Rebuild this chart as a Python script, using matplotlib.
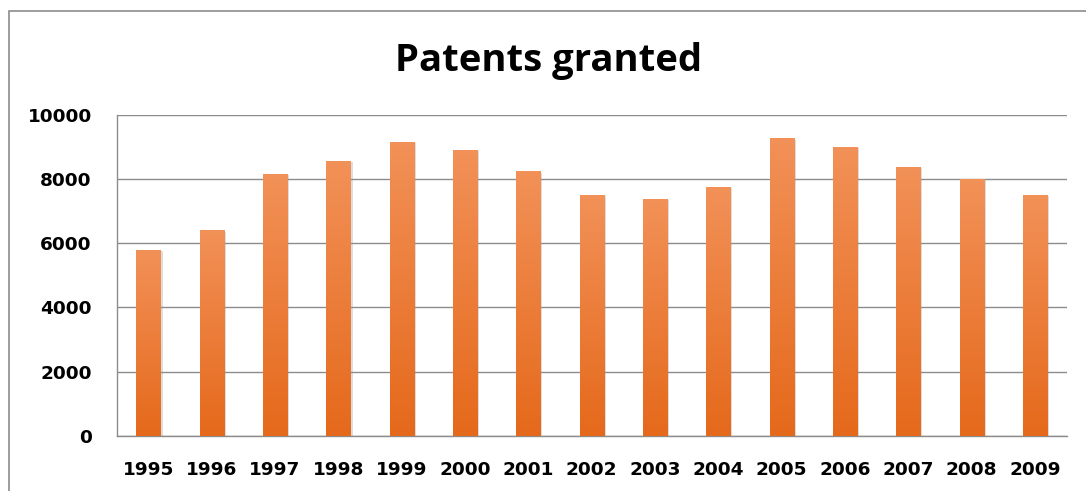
import numpy as np
import matplotlib
matplotlib.use("Agg")
from matplotlib import pyplot as plt
from matplotlib import patheffects
from matplotlib.colors import LinearSegmentedColormap
from matplotlib.patches import Rectangle

# Data
years = ["1995", "1996", "1997", "1998", "1999", "2000", "2001", "2002",
         "2003", "2004", "2005", "2006", "2007", "2008", "2009"]
patents = [5800, 6400, 8150, 8560, 9160, 8900, 8240, 7500,
           7380, 7750, 9270, 9000, 8380, 8000, 7500]
y_ticks = [0, 2000, 4000, 6000, 8000, 10000]

fig = plt.figure(figsize=(10.86, 4.91), dpi=100)
ax = fig.add_axes([0.1075, 0.1126, 0.8747, 0.6538])

# outer chart frame (left and top edges visible)
fig.patches.append(Rectangle((9 / 1086, -0.1), 1.2, 1 - 10.5 / 491 + 0.1,
                             transform=fig.transFigure, fill=False,
                             edgecolor="#8c8c8c", linewidth=1.2))

x = np.arange(len(years))
bars = ax.bar(x, patents, width=0.38, facecolor="none", edgecolor="none", zorder=2)

# orange vertical gradient, light at top, darker at bottom
cmap = LinearSegmentedColormap.from_list("orange", ["#E5691B", "#F29158"])
grad = np.linspace(0, 1, 256).reshape(-1, 1)
for b in bars:
    x0, y0 = b.get_x(), b.get_y()
    w, h = b.get_width(), b.get_height()
    b.set_path_effects([patheffects.SimplePatchShadow(offset=(1.5, -1),
                                                      shadow_rgbFace="#909090",
                                                      alpha=0.3)])
    im = ax.imshow(grad, cmap=cmap, aspect="auto", origin="lower",
                   extent=(x0, x0 + w, y0, y0 + h), zorder=3)
    im.set_clip_path(b)

ax.set_xlim(-0.5, len(years) - 0.5)
ax.set_ylim(0, 10000)
ax.set_yticks(y_ticks)
ax.set_xticks(x)
ax.set_xticklabels(years)
ax.yaxis.grid(True, color="#8c8c8c", linewidth=1.0, zorder=0)
ax.set_axisbelow(True)

for s in ["top", "right"]:
    ax.spines[s].set_visible(False)
for s in ["left", "bottom"]:
    ax.spines[s].set_color("#8c8c8c")
    ax.spines[s].set_linewidth(1.0)

ax.tick_params(axis="both", length=0, labelsize=13.3, colors="black")
ax.tick_params(axis="y", pad=18)
ax.tick_params(axis="x", pad=18)
for lab in ax.get_xticklabels() + ax.get_yticklabels():
    lab.set_fontweight("bold")
    lab.set_family("DejaVu Sans")

fig.text(0.505, 0.876, "Patents granted", ha="center", va="center",
         fontsize=27.5, fontweight="bold", family="Open Sans")

fig.savefig("out.png", dpi=100)
